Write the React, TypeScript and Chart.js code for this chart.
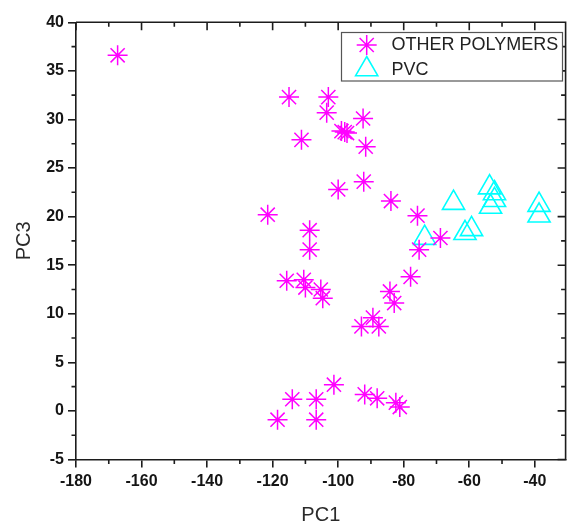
import React, { useEffect, useRef } from 'react';
import { Chart, registerables } from 'chart.js';
import { drawPoint } from 'chart.js/helpers';

Chart.register(...registerables);

// OTHER POLYMERS (PC1, PC3)
const otherX = [
  -167.3, -115.0, -103.0, -103.5, -92.4, -111.2, -99.0, -98.0, -97.3, -91.6,
  -100.0, -92.2, -83.9, -75.8, -121.5, -108.7, -108.7, -68.8, -75.3, -77.9,
  -115.7, -110.5, -110.0, -105.3, -104.7, -92.9, -89.4, -87.6, -84.2, -82.9,
  -118.5, -114.0, -106.7, -106.7, -101.3, -91.9, -88.1, -82.4, -81.2,
];
const otherY = [
  36.6, 32.3, 32.3, 30.7, 30.1, 27.9, 28.8, 28.7, 28.6, 27.2,
  22.8, 23.6, 21.6, 20.1, 20.2, 18.6, 16.6, 17.8, 16.6, 13.8,
  13.4, 13.5, 12.7, 12.5, 11.6, 8.7, 9.6, 8.7, 12.3, 11.1,
  -0.9, 1.2, 1.2, -0.9, 2.7, 1.7, 1.3, 0.85, 0.4,
];

// PVC (PC1, PC3)
const pvcX = [-64.8, -53.8, -52.3, -53.5, -52.3, -38.7, -38.7, -59.3, -61.3, -73.6];
const pvcY = [21.4, 23.0, 22.4, 21.0, 21.7, 21.2, 20.1, 18.7, 18.3, 17.8];

const seriesLabels = ['OTHER POLYMERS', 'PVC'];

const xTicks = [-180, -160, -140, -120, -100, -80, -60, -40];
const xMinorTicks = [-170, -150, -130, -110, -90, -70, -50];
const yTicks = [-5, 0, 5, 10, 15, 20, 25, 30, 35, 40];
const yMinorTicks = [-2.5, 2.5, 7.5, 12.5, 17.5, 22.5, 27.5, 32.5, 37.5];

const X_MIN = -180;
const X_MAX = -30.6;
const Y_MIN = -5;
const Y_MAX = 40;

const AXIS_COLOR = '#1c1c1c';
const AXIS_W = 1.6;
const FONT = '"Liberation Sans", Arial, sans-serif';

const framePlugin = {
  id: 'frameAndLegend',
  afterDatasetsDraw(chart: any) {
    const { ctx, chartArea, scales } = chart;
    const { left, right, top, bottom } = chartArea;
    const xs = scales.x;
    const ys = scales.y;
    ctx.save();
    ctx.strokeStyle = AXIS_COLOR;
    ctx.lineWidth = AXIS_W;
    ctx.lineCap = 'butt';
    ctx.beginPath();
    ctx.moveTo(left, top);
    ctx.lineTo(right, top);
    ctx.lineTo(right, bottom);
    xTicks.forEach((v) => {
      const p = xs.getPixelForValue(v);
      ctx.moveTo(p, top);
      ctx.lineTo(p, top + 8);
    });
    xMinorTicks.forEach((v) => {
      const p = xs.getPixelForValue(v);
      ctx.moveTo(p, top);
      ctx.lineTo(p, top + 4.5);
      ctx.moveTo(p, bottom);
      ctx.lineTo(p, bottom + 4.5);
    });
    yTicks.forEach((v) => {
      const p = ys.getPixelForValue(v);
      ctx.moveTo(right, p);
      ctx.lineTo(right - 8, p);
    });
    yMinorTicks.forEach((v) => {
      const p = ys.getPixelForValue(v);
      ctx.moveTo(right, p);
      ctx.lineTo(right - 4.5, p);
      ctx.moveTo(left, p);
      ctx.lineTo(left - 4.5, p);
    });
    ctx.stroke();

    // legend box inside plot, top right
    const bx = 341.5, by = 32.5, bw = 221, bh = 48.5;
    ctx.fillStyle = '#ffffff';
    ctx.fillRect(bx, by, bw, bh);
    ctx.strokeStyle = '#555555';
    ctx.lineWidth = 1.2;
    ctx.strokeRect(bx, by, bw, bh);
    const rows = [45, 69.3];
    chart.data.datasets.forEach((ds: any, i: number) => {
      ctx.save();
      ctx.strokeStyle = ds.borderColor;
      ctx.fillStyle = 'rgba(0,0,0,0)';
      ctx.lineWidth = ds.borderWidth;
      drawPoint(ctx, { pointStyle: ds.pointStyle, radius: ds.pointRadius, rotation: 0, borderWidth: ds.borderWidth } as any, 366.7, rows[i]);
      ctx.restore();
      ctx.fillStyle = '#222222';
      ctx.font = `18px ${FONT}`;
      ctx.textBaseline = 'middle';
      ctx.textAlign = 'left';
      ctx.fillText(ds.label, 391.5, rows[i] + 0.5);
    });
    ctx.restore();
  },
};

export default function App() {
  const ref = useRef<HTMLCanvasElement | null>(null);
  useEffect(() => {
    if (!ref.current) return;
    const chart = new Chart(ref.current, {
      type: 'scatter',
      data: {
        datasets: [
          {
            label: seriesLabels[0],
            data: otherX.map((x, i) => ({ x, y: otherY[i] })),
            pointStyle: 'star',
            pointRadius: 10,
            borderColor: '#ff00ff',
            backgroundColor: 'rgba(0,0,0,0)',
            borderWidth: 1.5,
          },
          {
            label: seriesLabels[1],
            data: pvcX.map((x, i) => ({ x, y: pvcY[i] })),
            pointStyle: 'triangle',
            pointRadius: 12.8,
            borderColor: '#00ffff',
            backgroundColor: 'rgba(0,0,0,0)',
            borderWidth: 1.6,
          },
        ],
      },
      options: {
        animation: false,
        responsive: false,
        events: [],
        layout: { padding: { top: 22.3, right: 8, bottom: 0, left: 0 } },
        plugins: {
          legend: { display: false },
          tooltip: { enabled: false },
        },
        scales: {
          x: {
            type: 'linear',
            min: X_MIN,
            max: X_MAX,
            afterBuildTicks: (s: any) => {
              s.ticks = xTicks.map((v) => ({ value: v }));
            },
            afterFit: (s: any) => {
              s.height = 65.5;
            },
            ticks: {
              color: '#151515',
              font: { family: FONT, size: 16, weight: 'bold' },
              padding: 4,
              maxRotation: 0,
              autoSkip: false,
            },
            grid: {
              drawOnChartArea: false,
              drawTicks: true,
              tickLength: 8,
              color: AXIS_COLOR,
              lineWidth: AXIS_W,
              tickWidth: AXIS_W,
            },
            border: { display: true, color: AXIS_COLOR, width: AXIS_W },
            title: {
              display: true,
              text: 'PC1',
              color: '#2a2a2a',
              font: { family: FONT, size: 20, lineHeight: 1 },
              padding: { top: 0, bottom: 0 },
            },
          },
          y: {
            type: 'linear',
            min: Y_MIN,
            max: Y_MAX,
            afterBuildTicks: (s: any) => {
              s.ticks = yTicks.map((v) => ({ value: v }));
            },
            afterFit: (s: any) => {
              s.width = 76;
            },
            ticks: {
              color: '#151515',
              font: { family: FONT, size: 16, weight: 'bold' },
              padding: 4,
              autoSkip: false,
            },
            grid: {
              drawOnChartArea: false,
              drawTicks: true,
              tickLength: 8,
              color: AXIS_COLOR,
              lineWidth: AXIS_W,
              tickWidth: AXIS_W,
            },
            border: { display: true, color: AXIS_COLOR, width: AXIS_W },
            title: {
              display: true,
              text: 'PC3',
              color: '#2a2a2a',
              font: { family: FONT, size: 20, lineHeight: 1 },
              padding: { top: 14, bottom: 0 },
            },
          },
        },
      },
      plugins: [framePlugin],
    });
    return () => chart.destroy();
  }, []);

  return (
    <div style={{ position: 'fixed', left: 0, top: 0, width: 567, height: 525, overflow: 'hidden', background: '#ffffff' }}>
      <canvas ref={ref} width={580} height={525} style={{ width: 580, height: 525, display: 'block' }} />
    </div>
  );
}
